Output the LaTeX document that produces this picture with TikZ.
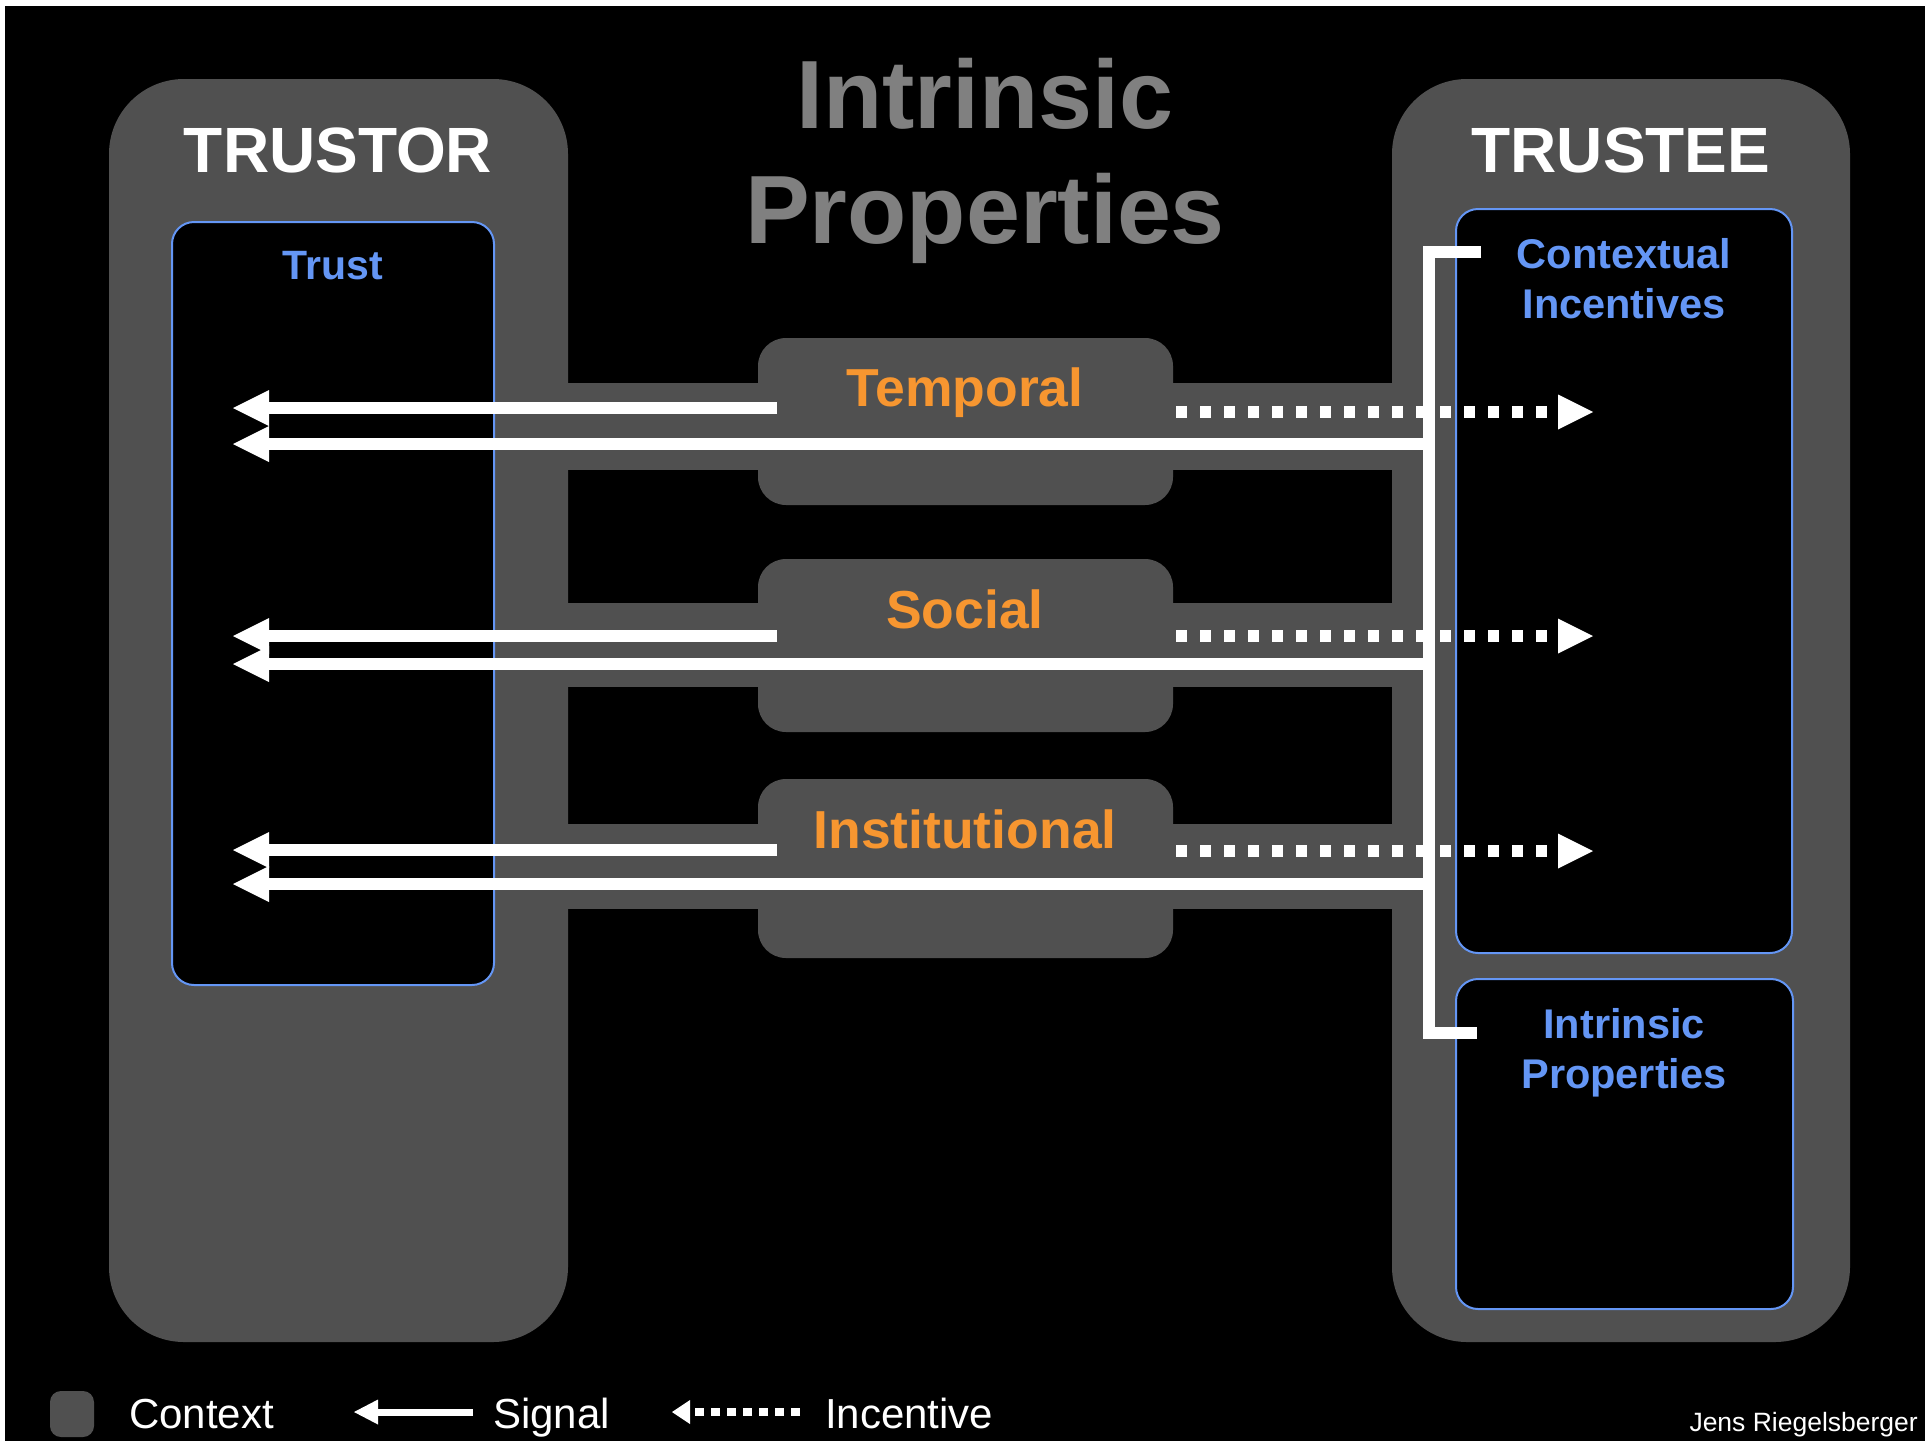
\documentclass[tikz,border=0pt]{standalone}
\usepackage{fontspec}
\setmainfont{Liberation Sans}
\usetikzlibrary{arrows.meta}
\definecolor{ctx}{RGB}{80,80,80}
\definecolor{tblue}{RGB}{100,150,245}
\definecolor{torange}{RGB}{247,150,48}
\definecolor{tgray}{RGB}{128,128,128}
\begin{document}
\begin{tikzpicture}[x=1pt,y=-1pt,
  ctxbox/.style={fill=ctx, draw=none, inner sep=0pt, rounded corners=#1},
  ctxbox/.default=28pt,
  inbox/.style={fill=black, draw=tblue, line width=2pt, rounded corners=22pt, inner sep=0pt},
  band/.style={fill=ctx},
  signal/.style={draw=white, line width=12pt, -{Triangle[length=36pt,width=36pt,line width=0pt]}},
  incent/.style={draw=white, line width=12pt, dash pattern=on 11pt off 13pt, -{Triangle[length=35pt,width=35pt,line width=0pt]}},
  spine/.style={draw=white, line width=12pt},
  head/.style={text=white, font=\bfseries\fontsize{64}{77}\selectfont, inner sep=0pt, anchor=base},
  bluelbl/.style={text=tblue, font=\bfseries\fontsize{41.5}{50}\selectfont, inner sep=0pt, anchor=base},
  orlbl/.style={text=torange, font=\bfseries\fontsize{53.5}{64}\selectfont, inner sep=0pt, anchor=base},
  leglbl/.style={text=white, font=\fontsize{42}{50}\selectfont, inner sep=0pt, anchor=base west}]
\useasboundingbox (0,0) rectangle (1925,1441);
\fill[black] (0,0) rectangle (1925,1441);
\fill[white] (0,0) rectangle (1925,6);
\fill[white] (0,0) rectangle (5,1441);

% context regions
\node[ctxbox=75pt, minimum width=459pt, minimum height=1263pt] (trustor) at (338.5,710.5) {};
\node[ctxbox=75pt, minimum width=458pt, minimum height=1263pt] (trustee) at (1621,710.5) {};
\fill[band] (560,383) rectangle (1400,470);
\fill[band] (560,603) rectangle (1400,687);
\fill[band] (560,824) rectangle (1400,909);
\node[ctxbox, minimum width=415pt, minimum height=167pt] (temporal) at (965.5,421.5) {};
\node[ctxbox, minimum width=415pt, minimum height=173pt] (social) at (965.5,645.5) {};
\node[ctxbox, minimum width=415pt, minimum height=179pt] (institutional) at (965.5,868.5) {};

% inner boxes
\node[inbox, minimum width=322pt, minimum height=763pt] (trust) at (333,603.5) {};
\node[inbox, minimum width=336pt, minimum height=744pt] (contextual) at (1624,581) {};
\node[inbox, minimum width=337pt, minimum height=330pt] (intrinsic) at (1624.5,1144) {};

% texts
\node[text=tgray, font=\bfseries\fontsize{97}{115}\selectfont, inner sep=0pt, anchor=base] (title) at (985,128)
  {\begin{tabular}[t]{@{}c@{}}Intrinsic\\Properties\end{tabular}};
\node[head] (trustorlbl) at (338,172) {TRUSTOR};
\node[head] (trusteelbl) at (1621,172) {TRUSTEE};
\node[text=tblue, font=\bfseries\fontsize{41}{50}\selectfont, inner sep=0pt, anchor=base] (trustlbl) at (333,279) {Trust};
\node[bluelbl] (ctxlbl) at (1624,268) {\begin{tabular}[t]{@{}c@{}}Contextual\\Incentives\end{tabular}};
\node[bluelbl] (intlbl) at (1624,1038) {\begin{tabular}[t]{@{}c@{}}Intrinsic\\Properties\end{tabular}};
\node[orlbl] (templbl) at (965,406) {Temporal};
\node[orlbl] (soclbl) at (965,628) {Social};
\node[orlbl] (instlbl) at (965,848) {Institutional};

% connector coordinates
\coordinate (spTopEnd) at (1481,252);
\coordinate (spTop) at (1429,252);
\coordinate (spBot) at (1429,1033);
\coordinate (spBotEnd) at (1477,1033);

\coordinate (tA) at (777,408);  \coordinate (tAe) at (233,408);
\coordinate (tB) at (1429,444); \coordinate (tBe) at (233,444);
\coordinate (tI) at (1176,412); \coordinate (tIe) at (1593,412);
\coordinate (sA) at (777,636);  \coordinate (sAe) at (233,636);
\coordinate (sB) at (1429,664); \coordinate (sBe) at (233,664);
\coordinate (sI) at (1176,636); \coordinate (sIe) at (1593,636);
\coordinate (iA) at (777,850);  \coordinate (iAe) at (233,850);
\coordinate (iB) at (1429,884); \coordinate (iBe) at (233,884);
\coordinate (iI) at (1176,851); \coordinate (iIe) at (1593,851);

\path[spine] (spTopEnd) -- (spTop) -- (spBot) -- (spBotEnd);

\draw[signal] (tA) -- (tAe);
\draw[signal] (tB) -- (tBe);
\draw[incent] (tI) -- (tIe);
\draw[signal] (sA) -- (sAe);
\draw[signal] (sB) -- (sBe);
\draw[incent] (sI) -- (sIe);
\draw[signal] (iA) -- (iAe);
\draw[signal] (iB) -- (iBe);
\draw[incent] (iI) -- (iIe);

% legend
\node[ctxbox=11pt, minimum width=44pt, minimum height=46pt] (legctx) at (72,1414) {};
\node[leglbl] (legctxlbl) at (129,1428) {Context};
\coordinate (lsA) at (473,1412); \coordinate (lsB) at (354,1412);
\draw[draw=white, line width=7pt, -{Triangle[length=24pt,width=25pt,line width=0pt]}] (lsA) -- (lsB);
\node[leglbl] (legsiglbl) at (493,1428) {Signal};
\coordinate (liA) at (800,1412); \coordinate (liB) at (672,1412);
\draw[draw=white, line width=8pt, dash pattern=on 9pt off 7pt, -{Triangle[length=18pt,width=24pt,line width=0pt]}] (liA) -- (liB);
\node[leglbl] (leginclbl) at (825,1428) {Incentive};
\node[text=white, font=\fontsize{26.5}{32}\selectfont, inner sep=0pt, anchor=base east] (author) at (1918,1431) {Jens Riegelsberger};
\end{tikzpicture}
\end{document}
